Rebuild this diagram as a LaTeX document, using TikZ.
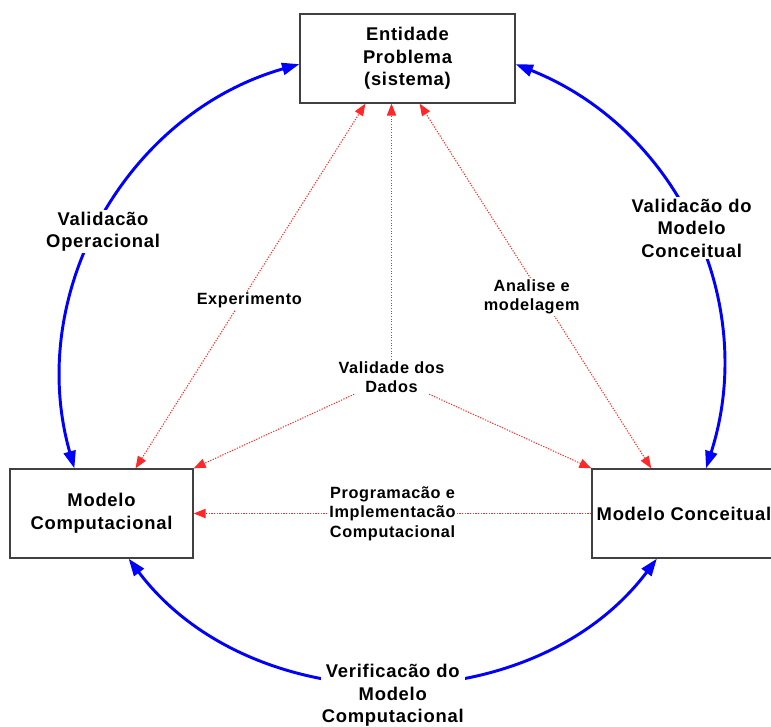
\documentclass[tikz,border=0pt]{standalone}
\usepackage{fontspec}
\setmainfont{Liberation Sans}[LetterSpace=4]
\usetikzlibrary{arrows.meta}
\definecolor{azulforte}{RGB}{0,0,255}
\definecolor{vermelhoclaro}{RGB}{255,40,40}
\tikzset{
  caixa/.style={draw=black!75, line width=1pt, fill=white, align=center, inner sep=2pt,
    minimum height=66.75pt, font={\bfseries\fontsize{13.8}{17}\selectfont}},
  rotulo/.style={fill=white, align=center, inner sep=1pt, font={\bfseries\fontsize{13.8}{17}\selectfont}},
  rotulop/.style={fill=white, align=center, inner sep=1pt, font={\bfseries\fontsize{12.2}{14.5}\selectfont}},
  azul/.style={draw=azulforte, line width=2.2pt, >={Triangle[length=13pt,width=9pt]}, <->},
  vermelho/.style={draw=vermelhoclaro, dash pattern=on .9pt off 1.1pt, line width=.8pt,
    >={Triangle[length=9pt,width=7pt]}},
}
\begin{document}
\begin{tikzpicture}[x=.75pt,y=.75pt]
\useasboundingbox (0,0) rectangle (771,-726);
% caixas
\node[caixa, minimum width=161.25pt] (ent) at (407.5,-58.5) {Entidade\\Problema\\(sistema)};
\node[caixa, minimum width=137.25pt] (comp) at (101.5,-513.5) {Modelo\\Computacional};
\node[caixa, minimum width=138pt] (conc) at (684,-513.5) {Modelo Conceitual};
\node[rotulop] (dados) at (391.5,-377) {Validade dos\\Dados};
% ciclo externo
\draw[azul] (comp.121) to[bend left=45] node[rotulo, yshift=-9pt] {Validacão\\Operacional} (ent.183);
\draw[azul] (ent.357) to[bend left=43] node[rotulo] {Validacão do\\Modelo\\Conceitual} (conc.64);
\draw[azul] (comp.301) to[bend right=53] node[rotulo, yshift=-10pt] {Verificacão do\\Modelo\\Computacional} (conc.239);
% ligacoes internas
\draw[vermelho, <->] (comp.53) -- node[rotulop, pos=.46, xshift=6pt] {Experimento} (ent.227);
\draw[vermelho, <->] (conc.126) -- node[rotulop, pos=.47, xshift=-8pt] {Analise e\\modelagem} (ent.285);
\draw[vermelho, ->] (dados) -- (dados |- ent.south);
\draw[vermelho, ->] (dados) -- (comp.north east);
\draw[vermelho, ->] (dados) -- (conc.north west);
\draw[vermelho, ->] (conc.west) -- node[rotulop] {Programacão e\\Implementacão\\Computacional} (comp.east);
\end{tikzpicture}
\end{document}
